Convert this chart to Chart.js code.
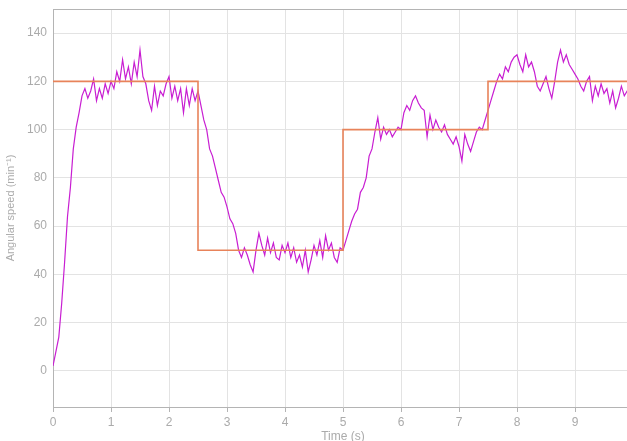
<!DOCTYPE html>
<html>
<head>
<meta charset="utf-8">
<script src="https://cdn.jsdelivr.net/npm/chart.js@4"></script>
<style>
  html, body { margin: 0; padding: 0; background: #fff; overflow: hidden; }
  #wrap { width: 660px; height: 450px; }
</style>
</head>
<body>
<div id="wrap"><canvas id="speedChart" width="660" height="450"></canvas></div>
<script>
// Time axis: one sample every 0.05 s
const sampleStep = 0.05;

const measuredSpeed = [
    2, 8, 14, 28, 45, 64, 76, 92, 101, 107,
    114, 117, 113, 116, 121, 112, 117, 113, 119, 115,
    120, 117, 124, 120, 129, 121, 126, 119, 128, 122,
    133, 122, 119, 112, 108, 118, 110, 116, 114, 119,
    122, 113, 118, 112, 117, 107, 117, 110, 117, 112,
    116, 110, 104, 100, 92, 89, 84, 79, 74, 72,
    68, 63, 61, 57, 50, 47, 51, 48, 44, 41,
    50, 57, 52, 48, 55, 49, 53, 47, 46, 52,
    49, 53, 47, 51, 45, 48, 43, 50, 41, 46,
    52, 48, 54, 47, 56, 50, 53, 47, 45, 51,
    50, 54, 58, 62, 65, 67, 74, 76, 80, 89,
    92, 99, 105, 96, 101, 98, 100, 97, 99, 101,
    100, 107, 110, 108, 112, 114, 111, 109, 108, 97,
    106, 100, 104, 101, 99, 102, 98, 96, 94, 97,
    93, 87, 98, 94, 91, 95, 99, 101, 100, 104,
    108, 112, 116, 120, 123, 121, 126, 124, 128, 130,
    131, 127, 124, 131, 126, 128, 124, 118, 116, 119,
    122, 117, 113, 120, 128, 133, 128, 131, 127, 125,
    123, 121, 118, 116, 120, 122, 112, 118, 114, 119,
    115, 117, 111, 116, 109, 113, 118, 114, 116, 112,
    115
];

// Reference (setpoint) speed steps
const setpointTimes = [0, 2.5, 5, 7.5, 10];
const setpointSpeed = [120, 50, 100, 120, 120];

const xTicks = [0, 1, 2, 3, 4, 5, 6, 7, 8, 9, 10];
const yTicks = [0, 20, 40, 60, 80, 100, 120, 140];

const measuredPoints = measuredSpeed.map((v, i) => ({ x: +(i * sampleStep).toFixed(2), y: v }));
const setpointPoints = setpointTimes.map((t, i) => ({ x: t, y: setpointSpeed[i] }));

const tickColor = '#ababab';
const gridColor = '#e3e3e3';
const axisColor = '#b4b4b4';

// draws the top edge of the plot box
const topBorder = {
    id: 'topBorder',
    afterDraw(chart) {
        const { ctx, chartArea } = chart;
        ctx.save();
        ctx.strokeStyle = axisColor;
        ctx.lineWidth = 1;
        ctx.beginPath();
        ctx.moveTo(chartArea.left, chartArea.top + 0.5);
        ctx.lineTo(chartArea.right, chartArea.top + 0.5);
        ctx.stroke();
        ctx.restore();
    }
};

const ctx = document.getElementById('speedChart').getContext('2d');
new Chart(ctx, {
    type: 'line',
    data: {
        datasets: [
            {
                label: 'Setpoint',
                data: setpointPoints,
                borderColor: '#e8835a',
                borderWidth: 1.6,
                stepped: 'before',
                pointRadius: 0,
                fill: false
            },
            {
                label: 'Speed',
                data: measuredPoints,
                borderColor: '#c81ed2',
                borderWidth: 1.2,
                tension: 0,
                pointRadius: 0,
                fill: false
            }
        ]
    },
    options: {
        responsive: false,
        animation: false,
        devicePixelRatio: 1,
        layout: { padding: { top: 9, right: 27, left: 0, bottom: 0 } },
        plugins: {
            legend: { display: false },
            tooltip: { enabled: false }
        },
        scales: {
            x: {
                type: 'linear',
                min: 0,
                max: 10,
                afterBuildTicks: (scale) => { scale.ticks = xTicks.map(v => ({ value: v })); },
                afterFit: (scale) => { scale.height = 43; },
                grid: { color: gridColor, tickLength: 5, tickColor: axisColor },
                border: { color: axisColor },
                ticks: {
                    color: tickColor,
                    padding: 3,
                    maxRotation: 0,
                    font: { family: 'Liberation Sans', size: 12 }
                },
                title: {
                    display: true,
                    text: 'Time (s)',
                    color: tickColor,
                    padding: { top: 0, bottom: 6 },
                    font: { family: 'Liberation Sans', size: 12 }
                }
            },
            y: {
                min: -15,
                max: 150,
                afterBuildTicks: (scale) => { scale.ticks = yTicks.map(v => ({ value: v })); },
                afterFit: (scale) => {
                    scale.width = 53;
                    scale.paddingTop = 0;
                    scale.paddingBottom = 0;
                },
                grid: { color: gridColor, drawTicks: false },
                border: { color: axisColor },
                ticks: {
                    color: tickColor,
                    padding: 6,
                    font: { family: 'Liberation Sans', size: 12 }
                },
                title: {
                    display: true,
                    text: 'Angular speed (min\u207B\u00B9)',
                    color: tickColor,
                    padding: { top: 4, bottom: 0 },
                    font: { family: 'Liberation Sans', size: 11 }
                }
            }
        }
    },
    plugins: [topBorder]
});
</script>
</body>
</html>
